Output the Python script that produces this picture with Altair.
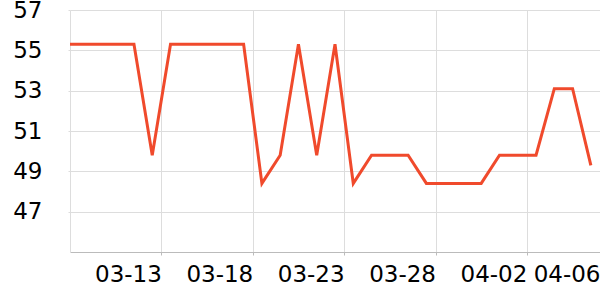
import altair as alt
import pandas as pd

dates = [
    "2024-03-08", "2024-03-09", "2024-03-10", "2024-03-11", "2024-03-12",
    "2024-03-13", "2024-03-14", "2024-03-15", "2024-03-16", "2024-03-17",
    "2024-03-18", "2024-03-19", "2024-03-20", "2024-03-21", "2024-03-22",
    "2024-03-23", "2024-03-24", "2024-03-25", "2024-03-26", "2024-03-27",
    "2024-03-28", "2024-03-29", "2024-03-30", "2024-03-31", "2024-04-01",
    "2024-04-02", "2024-04-03", "2024-04-04", "2024-04-05", "2024-04-06",
]
values = [
    55.3, 55.3, 55.3, 55.3, 55.3,
    49.8, 55.3, 55.3, 55.3, 55.3,
    55.3, 48.4, 49.8, 55.3, 49.8,
    55.3, 48.4, 49.8, 49.8, 49.8,
    48.4, 48.4, 48.4, 48.4, 49.8,
    49.8, 49.8, 53.1, 53.1, 49.3,
]
tick_days = [(3, 13), (3, 18), (3, 23), (3, 28), (4, 2), (4, 6)]
y_ticks = [47, 49, 51, 53, 55, 57]
y_domain = [45, 57]

df = pd.DataFrame({"date": dates, "value": values})

def utc(m, d, h=0):
    return alt.DateTime(year=2024, month=m, date=d, hours=h, utc=True)

x_domain = [utc(3, 8, 12), utc(4, 6, 12)]
x_tick_values = [utc(m, d, 12) for m, d in tick_days]

FONT = "DejaVu Sans"

chart = (
    alt.Chart(df)
    .mark_line(color="#f04a2c", strokeWidth=3, clip=True)
    .encode(
        x=alt.X(
            "date:T",
            scale=alt.Scale(type="utc", domain=x_domain),
            axis=alt.Axis(
                title=None,
                values=x_tick_values,
                labelExpr="utcFormat(datum.value, '%m-%d')",
                grid=True,
                gridColor="#dddddd",
                domainColor="#bbbbbb",
                tickColor="#bbbbbb",
                tickSize=3,
                labelAlign="right",
                labelBaseline="top",
                labelPadding=8,
                labelFontSize=23,
                labelFont=FONT,
                labelColor="#000000",
                labelFlush=False,
                labelOverlap=False,
                labelBound=False,
            ),
        ),
        y=alt.Y(
            "value:Q",
            scale=alt.Scale(domain=y_domain, nice=False, zero=False),
            axis=alt.Axis(
                title=None,
                values=y_ticks,
                grid=True,
                gridColor="#dddddd",
                domainColor="#dddddd",
                tickColor="#dddddd",
                tickSize=2,
                labelPadding=26,
                labelFontSize=23,
                labelFont=FONT,
                labelColor="#000000",
                labelFlush=False,
                labelOverlap=False,
            ),
        ),
    )
    .properties(
        width=530,
        height=242,
        autosize=alt.AutoSizeParams(type="none"),
        padding={"left": 70, "top": 10, "right": 0, "bottom": 48},
    )
    .configure_view(stroke=None)
)

chart.save("out.html", embed_options={"renderer": "svg", "actions": False})
